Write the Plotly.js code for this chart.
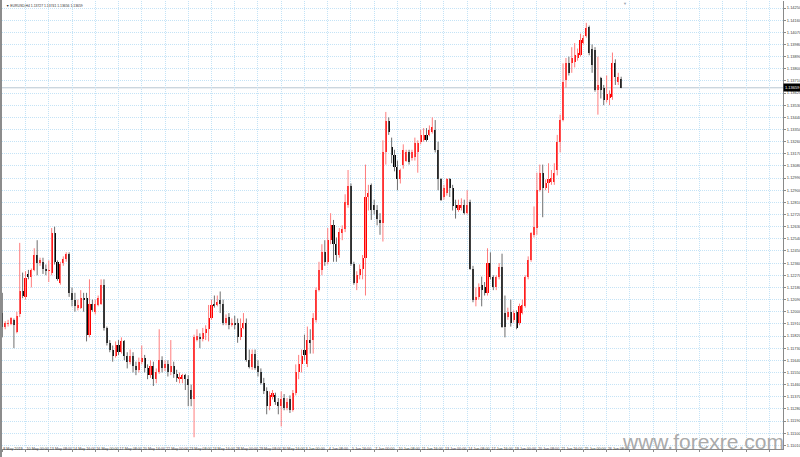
<!DOCTYPE html>
<html><head><meta charset="utf-8">
<script src="https://cdn.plot.ly/plotly-3.0.1.min.js"></script>
<style>html,body{margin:0;padding:0;background:#fff;overflow:hidden}#chart{width:800px;height:457px}</style>
</head><body><div id="chart"></div>
<script>
const symbolTitle = "EURUSD,H4";
const open = [
1.1199,1.1189,1.1191,1.1191,1.1194,1.1185,1.1198,1.1215,1.1211,1.1228,
1.1226,1.1231,1.1242,1.1236,1.1237,1.1232,1.1230,1.1229,1.1258,1.1237,
1.1221,1.1236,1.1239,1.1243,1.1214,1.1209,1.1203,1.1203,1.1210,1.1210,
1.1183,1.1206,1.1200,1.1205,1.1206,1.1220,1.1188,1.1177,1.1172,1.1167,
1.1175,1.1170,1.1178,1.1167,1.1163,1.1167,1.1160,1.1157,1.1163,1.1166,
1.1158,1.1153,1.1160,1.1150,1.1155,1.1164,1.1158,1.1161,1.1155,1.1160,
1.1154,1.1150,1.1150,1.1153,1.1150,1.1142,1.1135,1.1179,1.1181,1.1180,
1.1184,1.1187,1.1195,1.1206,1.1205,1.1209,1.1206,1.1192,1.1196,1.1190,
1.1192,1.1192,1.1181,1.1188,1.1192,1.1164,1.1159,1.1169,1.1160,1.1155,
1.1147,1.1141,1.1130,1.1137,1.1138,1.1133,1.1130,1.1136,1.1129,1.1135,
1.1127,1.1140,1.1155,1.1161,1.1172,1.1161,1.1179,1.1179,1.1194,1.1216,
1.1231,1.1244,1.1237,1.1253,1.1264,1.1250,1.1242,1.1258,1.1261,1.1279,
1.1293,1.1235,1.1221,1.1227,1.1232,1.1240,1.1285,1.1294,1.1279,1.1275,
1.1268,1.1266,1.1318,1.1341,1.1322,1.1316,1.1307,1.1298,1.1309,1.1312,
1.1318,1.1314,1.1315,1.1318,1.1326,1.1327,1.1331,1.1331,1.1333,1.1335,
1.1320,1.1298,1.1285,1.1288,1.1298,1.1292,1.1279,1.1275,1.1277,1.1279,
1.1273,1.1281,1.1232,1.1209,1.1211,1.1220,1.1218,1.1214,1.1236,1.1226,
1.1218,1.1226,1.1233,1.1199,1.1196,1.1200,1.1194,1.1200,1.1192,1.1199,
1.1204,1.1226,1.1238,1.1257,1.1262,1.1290,1.1303,1.1292,1.1295,1.1296,
1.1296,1.1305,1.1326,1.1342,1.1372,1.1384,1.1384,1.1385,1.1388,1.1390,
1.1399,1.1404,1.1411,1.1395,1.1394,1.1364,1.1373,1.1366,1.1357,1.1358,
1.1359,1.1384,1.1370,1.13727];
const high = [
1.1214,1.1193,1.1194,1.1196,1.1195,1.1200,1.1251,1.1229,1.1230,1.1231,
1.1232,1.1247,1.1253,1.1240,1.1240,1.1235,1.1238,1.1262,1.1263,1.1238,
1.1237,1.1241,1.1244,1.1244,1.1218,1.1214,1.1209,1.1216,1.1214,1.1214,
1.1224,1.1209,1.1209,1.1212,1.1224,1.1224,1.1189,1.1179,1.1175,1.1178,
1.1179,1.1181,1.1179,1.1170,1.1172,1.1170,1.1163,1.1166,1.1175,1.1168,
1.1161,1.1164,1.1163,1.1158,1.1187,1.1167,1.1164,1.1164,1.1179,1.1163,
1.1157,1.1155,1.1154,1.1154,1.1153,1.1146,1.1183,1.1187,1.1184,1.1188,
1.1190,1.1205,1.1209,1.1212,1.1212,1.1215,1.1209,1.1198,1.1199,1.1195,
1.1197,1.1195,1.1195,1.1199,1.1195,1.1172,1.1172,1.1172,1.1164,1.1158,
1.1151,1.1144,1.1141,1.1142,1.1140,1.1136,1.1141,1.1139,1.1136,1.1138,
1.1142,1.1161,1.1168,1.1172,1.1183,1.1189,1.1187,1.1199,1.1218,1.1237,
1.1250,1.1253,1.1262,1.1273,1.1268,1.1255,1.1262,1.1264,1.1287,1.1305,
1.1295,1.1237,1.1230,1.1235,1.1242,1.1309,1.1294,1.1295,1.1283,1.1279,
1.1273,1.1327,1.1348,1.1344,1.1329,1.1320,1.1312,1.1306,1.1324,1.1320,
1.1320,1.1320,1.1329,1.1327,1.1335,1.1336,1.1336,1.1338,1.1344,1.1342,
1.1326,1.1299,1.1294,1.1299,1.1299,1.1294,1.1283,1.1283,1.1284,1.1283,
1.1290,1.1283,1.1234,1.1218,1.1221,1.1226,1.1222,1.1247,1.1244,1.1227,
1.1227,1.1236,1.1243,1.1212,1.1203,1.1209,1.1201,1.1201,1.1206,1.1209,
1.1227,1.1241,1.1259,1.1278,1.1303,1.1309,1.1309,1.1298,1.1310,1.1305,
1.1310,1.1331,1.1346,1.1384,1.1388,1.1389,1.1396,1.1399,1.1395,1.1406,
1.1405,1.1414,1.1412,1.1398,1.1396,1.1389,1.1374,1.1368,1.1375,1.1364,
1.1392,1.1387,1.1377,1.13741];
const low = [
1.1181,1.1187,1.1189,1.1190,1.1173,1.1184,1.1196,1.1210,1.1209,1.1224,
1.1218,1.1230,1.1227,1.1234,1.1228,1.1227,1.1222,1.1227,1.1235,1.1223,
1.1220,1.1234,1.1237,1.1211,1.1204,1.1200,1.1201,1.1202,1.1200,1.1178,
1.1181,1.1200,1.1198,1.1204,1.1205,1.1186,1.1175,1.1170,1.1163,1.1166,
1.1168,1.1169,1.1164,1.1158,1.1161,1.1155,1.1153,1.1155,1.1161,1.1155,
1.1150,1.1151,1.1145,1.1147,1.1154,1.1155,1.1156,1.1152,1.1153,1.1151,
1.1148,1.1147,1.1147,1.1142,1.1130,1.1130,1.1107,1.1178,1.1173,1.1178,
1.1179,1.1178,1.1194,1.1203,1.1204,1.1199,1.1190,1.1190,1.1187,1.1189,
1.1187,1.1177,1.1179,1.1187,1.1163,1.1158,1.1157,1.1157,1.1152,1.1146,
1.1139,1.1124,1.1127,1.1135,1.1131,1.1124,1.1115,1.1127,1.1127,1.1125,
1.1126,1.1138,1.1150,1.1155,1.1164,1.1159,1.1169,1.1169,1.1192,1.1215,
1.1227,1.1234,1.1235,1.1250,1.1237,1.1237,1.1240,1.1253,1.1259,1.1277,
1.1234,1.1220,1.1216,1.1224,1.1224,1.1212,1.1275,1.1268,1.1272,1.1264,
1.1257,1.1252,1.1309,1.1331,1.1310,1.1304,1.1290,1.1295,1.1306,1.1311,
1.1309,1.1312,1.1312,1.1303,1.1324,1.1326,1.1326,1.1330,1.1332,1.1318,
1.1290,1.1282,1.1283,1.1286,1.1285,1.1275,1.1269,1.1274,1.1275,1.1272,
1.1272,1.1231,1.1207,1.1204,1.1209,1.1204,1.1212,1.1212,1.1224,1.1216,
1.1216,1.1224,1.1188,1.1181,1.1194,1.1189,1.1192,1.1187,1.1190,1.1198,
1.1203,1.1224,1.1237,1.1255,1.1257,1.1289,1.1270,1.1290,1.1288,1.1294,
1.1294,1.1301,1.1318,1.1341,1.1366,1.1375,1.1377,1.1381,1.1386,1.1389,
1.1398,1.1403,1.1390,1.1377,1.1363,1.1346,1.1358,1.1353,1.1355,1.1353,
1.1357,1.1368,1.1368,1.13656];
const close = [
1.1189,1.1192,1.1192,1.1195,1.1190,1.1197,1.1215,1.1212,1.1225,1.1226,
1.1231,1.1242,1.1236,1.1238,1.1232,1.1230,1.1231,1.1258,1.1237,1.1224,
1.1235,1.1239,1.1243,1.1214,1.1209,1.1204,1.1205,1.1210,1.1209,1.1183,
1.1206,1.1201,1.1206,1.1210,1.1220,1.1188,1.1177,1.1172,1.1167,1.1175,
1.1170,1.1178,1.1167,1.1163,1.1167,1.1160,1.1157,1.1163,1.1166,1.1158,
1.1153,1.1160,1.1150,1.1155,1.1164,1.1158,1.1161,1.1155,1.1160,1.1154,
1.1151,1.1152,1.1153,1.1150,1.1146,1.1135,1.1181,1.1182,1.1180,1.1184,
1.1187,1.1195,1.1205,1.1204,1.1207,1.1206,1.1192,1.1195,1.1190,1.1192,
1.1190,1.1181,1.1188,1.1192,1.1164,1.1159,1.1169,1.1158,1.1155,1.1147,
1.1141,1.1130,1.1138,1.1140,1.1133,1.1130,1.1135,1.1129,1.1133,1.1127,
1.1140,1.1155,1.1161,1.1167,1.1168,1.1179,1.1177,1.1195,1.1216,1.1231,
1.1244,1.1237,1.1253,1.1264,1.1250,1.1242,1.1259,1.1261,1.1281,1.1293,
1.1235,1.1221,1.1227,1.1232,1.1240,1.1285,1.1288,1.1275,1.1275,1.1269,
1.1266,1.1318,1.1341,1.1333,1.1316,1.1307,1.1298,1.1305,1.1320,1.1318,
1.1311,1.1318,1.1325,1.1325,1.1331,1.1331,1.1327,1.1335,1.1337,1.1320,
1.1298,1.1283,1.1292,1.1298,1.1292,1.1278,1.1277,1.1279,1.1279,1.1273,
1.1279,1.1232,1.1209,1.1211,1.1218,1.1216,1.1214,1.1236,1.1226,1.1218,
1.1226,1.1233,1.1189,1.1189,1.1200,1.1192,1.1199,1.1188,1.1204,1.1205,
1.1226,1.1238,1.1258,1.1263,1.1290,1.1303,1.1292,1.1295,1.1298,1.1299,
1.1303,1.1326,1.1342,1.1370,1.1384,1.1377,1.1388,1.1390,1.1392,1.1401,
1.1403,1.1410,1.1392,1.1383,1.1364,1.1368,1.1364,1.1357,1.1361,1.1361,
1.1384,1.1374,1.1374,1.13659];
const dateLabels = ["8 May 2019","10 May 00:00","13 May 08:00","14 May 16:00","16 May 00:00","17 May 08:00",
"20 May 16:00","22 May 00:00","23 May 08:00","24 May 16:00","28 May 00:00","29 May 08:00","30 May 16:00",
"3 Jun 00:00","4 Jun 08:00","5 Jun 16:00","7 Jun 00:00","10 Jun 08:00","11 Jun 16:00","13 Jun 00:00",
"14 Jun 08:00","17 Jun 16:00","19 Jun 00:00","20 Jun 08:00","21 Jun 16:00","25 Jun 00:00","26 Jun 08:00"];
const priceTicks = [1.11010,1.11100,1.11190,1.11280,1.11370,1.11460,1.11550,1.11640,1.11730,1.11820,
1.11910,1.12000,1.12090,1.12180,1.12270,1.12360,1.12450,1.12540,1.12630,1.12720,1.12810,1.12900,
1.12990,1.13080,1.13170,1.13260,1.13350,1.13440,1.13530,1.13620,1.13710,1.13800,1.13890,1.13980,
1.14070,1.14160,1.14250];
const watermark = "www.forexre.com";

const n = close.length;
const last = n - 1;
const FONT = "Liberation Sans, Arial, sans-serif";
const upWx = [], upWy = [], dnWx = [], dnWy = [];
const bx = [], bBase = [], bLen = [], bCol = [];
for (let i = 0; i < n; i++) {
  const up = close[i] >= open[i];
  (up ? upWx : dnWx).push(i, i, null);
  (up ? upWy : dnWy).push(low[i], high[i], null);
  let d = close[i] - open[i];
  if (Math.abs(d) < 0.00006) d = up ? 0.00006 : -0.00006;
  bx.push(i); bBase.push(open[i]); bLen.push(d); bCol.push(up ? "#ff0000" : "#000000");
}
const tickv = [], tickt = [];
for (let k = 0; k * 8 <= 268; k++) { tickv.push(k * 8); tickt.push(dateLabels[k] || ""); }

const traces = [
  {type: "scatter", mode: "lines", x: upWx, y: upWy, line: {color: "#ff7c7c", width: 1}, hoverinfo: "skip"},
  {type: "scatter", mode: "lines", x: dnWx, y: dnWy, line: {color: "#6e6e6e", width: 1}, hoverinfo: "skip"},
  {type: "bar", x: bx, base: bBase, y: bLen, width: 0.72, marker: {color: bCol, line: {width: 0}}, hoverinfo: "skip"}
];
const gridCol = "#c4e3f6";
const layout = {
  width: 800, height: 457,
  margin: {l: 2, r: 17, t: 1, b: 8, pad: 0},
  paper_bgcolor: "#ffffff", plot_bgcolor: "#ffffff",
  showlegend: false, bargap: 0,
  font: {family: FONT, size: 4, color: "#404040"},
  xaxis: {
    range: [-0.1, 268.7], tickmode: "array", tickvals: tickv, ticktext: tickt,
    tickangle: 0, ticklabelposition: "outside right", ticklabelstandoff: -4,
    tickfont: {family: FONT, size: 3.7, color: "#404040"},
    showgrid: true, gridcolor: gridCol, gridwidth: 1, griddash: "1px,1px",
    showline: true, linecolor: "#8a8a8a", linewidth: 1,
    ticks: "outside", ticklen: 2, tickcolor: "#8a8a8a", zeroline: false, fixedrange: true
  },
  yaxis: {
    side: "right", range: [1.10983, 1.14302], tickmode: "array", tickvals: priceTicks,
    ticktext: priceTicks.map(v => v.toFixed(5)), tickfont: {family: FONT, size: 4, color: "#404040"},
    showgrid: true, gridcolor: gridCol, gridwidth: 1, griddash: "1px,1px",
    showline: true, linecolor: "#8a8a8a", linewidth: 1,
    ticks: "outside", ticklen: 2, tickcolor: "#8a8a8a", zeroline: false, fixedrange: true
  },
  shapes: [
    {type: "line", xref: "paper", x0: 0, x1: 1, yref: "y", y0: close[last], y1: close[last],
     line: {color: "#b9c6d2", width: 1}, layer: "below"},
    {type: "rect", xref: "paper", x0: -0.0026, x1: 0, yref: "paper", y0: -0.02, y1: 1.01,
     fillcolor: "#8c8c8c", line: {width: 0}}
  ],
  annotations: [
    {xref: "paper", yref: "paper", x: 0.003, y: 0.997, xanchor: "left", yanchor: "top", showarrow: false,
     text: "\u25BC " + symbolTitle + " " + open[last].toFixed(5) + " " + high[last].toFixed(5) + " " + low[last].toFixed(5) + " " + close[last].toFixed(5),
     font: {family: FONT, size: 3.4, color: "#303030"}},
    {xref: "paper", yref: "paper", x: 0.7977, y: 1.004, xanchor: "center", yanchor: "top", showarrow: false,
     text: "\u25BC", font: {family: FONT, size: 4, color: "#9aa4ae"}},
    {xref: "paper", yref: "y", x: 1, y: close[last], xanchor: "left", yanchor: "middle", showarrow: false,
     text: close[last].toFixed(5), bgcolor: "#000000", borderpad: 1, font: {family: FONT, size: 4, color: "#ffffff"}},
    {xref: "paper", yref: "paper", x: 1, y: 0, xanchor: "right", yanchor: "bottom", xshift: 3, yshift: -6, showarrow: false,
     text: watermark, font: {family: "Liberation Sans, Arial, sans-serif", size: 21, color: "#aaaaaa"}}
  ]
};
Plotly.newPlot("chart", traces, layout, {staticPlot: true, displayModeBar: false});
</script>
</body></html>
